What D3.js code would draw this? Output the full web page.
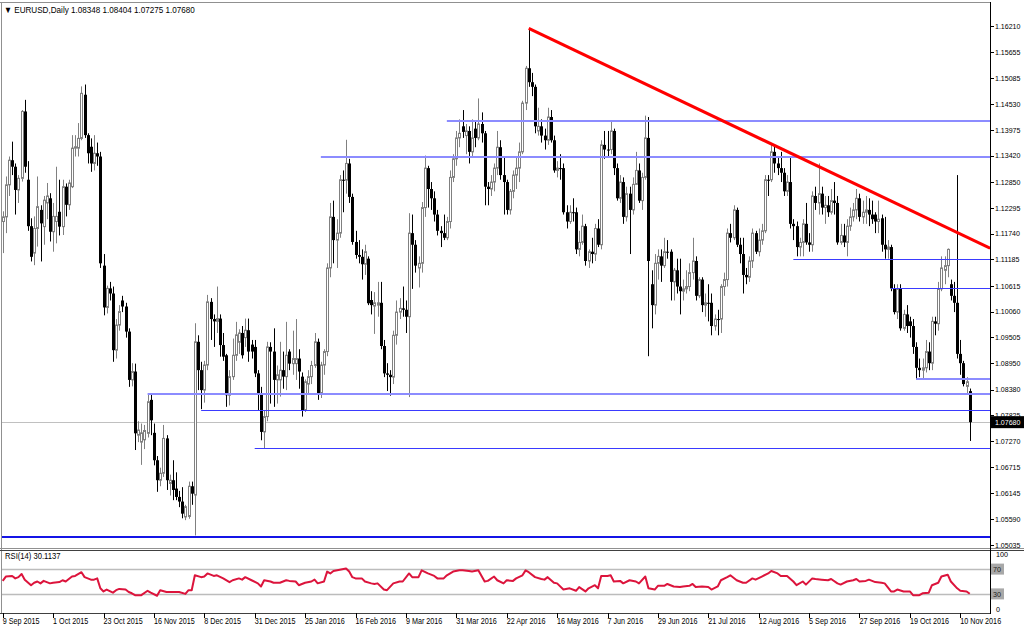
<!DOCTYPE html>
<html><head><meta charset="utf-8">
<script src="https://cdn.jsdelivr.net/npm/d3@7"></script>
<style>
html,body{margin:0;padding:0;background:#fff;overflow:hidden;}
svg{display:block;font-family:"Liberation Sans",Arial,sans-serif;}
</style></head><body>
<svg id="c" width="1024" height="630"></svg>
<script>
// ---------- DATA (EURUSD daily) ----------
const symbolTitle = "EURUSD,Daily";
const lastQuote = ["1.08348","1.08404","1.07275","1.07680"];
const opens = [
1.1200,1.1210,1.1279,1.1332,1.1318,1.1268,1.1293,1.1437,1.1290,1.1190,
1.1132,1.1185,1.1225,1.1189,1.1240,1.1250,1.1178,1.1200,1.1221,1.1189,
1.1275,1.1236,1.1275,1.1358,1.1358,1.1379,1.1473,1.1386,1.1361,1.1325,
1.1347,1.1340,1.1105,1.1015,1.1056,1.1045,1.0923,1.0977,1.1030,1.1017,
1.0963,1.0859,1.0877,1.0740,1.0725,1.0730,1.0744,1.0816,1.0745,1.0686,
1.0643,1.0658,1.0733,1.0636,1.0643,1.0625,1.0607,1.0597,1.0564,1.0565,
1.0630,1.0611,1.0941,1.0880,1.0837,1.0891,1.1027,1.0990,1.0985,1.0991,
1.0934,1.0912,1.0826,1.0866,1.0912,1.0940,1.0960,1.0950,1.0966,1.0935,
1.0930,1.0873,1.0830,1.0747,1.0780,1.0930,1.0920,1.0859,1.0859,1.0880,
1.0866,1.0920,1.0894,1.0894,1.0905,1.0866,1.0794,1.0850,1.0866,1.0890,
1.0941,1.0830,1.0891,1.0920,1.1100,1.1210,1.1160,1.1175,1.1290,1.1289,
1.1325,1.1253,1.1156,1.1128,1.1124,1.1108,1.1120,1.1031,1.1018,1.1020,
1.1025,1.0932,1.0873,1.0870,1.0865,1.0955,1.1005,1.1013,1.1010,1.0995,
1.1175,1.1150,1.1100,1.1110,1.1230,1.1315,1.1270,1.1250,1.1215,1.1180,
1.1175,1.1165,1.1200,1.1295,1.1335,1.1380,1.1405,1.1385,1.1395,1.1350,
1.1400,1.1380,1.1410,1.1390,1.1275,1.1270,1.1285,1.1315,1.1360,1.1300,
1.1285,1.1225,1.1265,1.1300,1.1315,1.1350,1.1455,1.1530,1.1500,1.1490,
1.1395,1.1405,1.1385,1.1375,1.1425,1.1375,1.1310,1.1315,1.1315,1.1220,
1.1200,1.1220,1.1220,1.1140,1.1155,1.1190,1.1115,1.1135,1.1130,1.1185,
1.1150,1.1365,1.1355,1.1355,1.1395,1.1315,1.1250,1.1285,1.1210,1.1260,
1.1225,1.1280,1.1310,1.1245,1.1295,1.1380,1.1065,1.1020,1.1110,1.1125,
1.1105,1.1135,1.1135,1.1070,1.1095,1.1060,1.1050,1.1055,1.1060,1.1090,
1.1115,1.1040,1.1075,1.1020,1.1025,1.1025,1.0975,1.0990,1.0990,1.1060,
1.1075,1.1175,1.1165,1.1225,1.1150,1.1130,1.1085,1.1080,1.1115,1.1175,
1.1135,1.1160,1.1180,1.1290,1.1290,1.1350,1.1325,1.1315,1.1305,1.1265,
1.1285,1.1195,1.1190,1.1145,1.1155,1.1195,1.1155,1.1150,1.1255,1.1240,
1.1260,1.1230,1.1235,1.1220,1.1245,1.1240,1.1155,1.1170,1.1155,1.1190,
1.1210,1.1225,1.1250,1.1210,1.1220,1.1225,1.1215,1.1215,1.1200,1.1207,
1.1150,1.1140,1.1145,1.1056,1.1005,1.1055,1.0970,1.1000,1.0985,1.0975,
1.0930,1.0885,1.0880,1.0885,1.0920,1.0895,1.0985,1.0980,1.1055,1.1095,
1.1105,1.1065,1.1040,1.1025,1.0915,1.0895,1.0845,1.08348];
const highs = [
1.1222,1.1297,1.1340,1.1372,1.1325,1.1300,1.1440,1.1462,1.1330,1.1207,
1.1211,1.1297,1.1235,1.1255,1.1283,1.1261,1.1240,1.1318,1.1290,1.1290,
1.1282,1.1290,1.1386,1.1386,1.1412,1.1491,1.1495,1.1390,1.1379,1.1386,
1.1370,1.1350,1.1130,1.1062,1.1070,1.1060,1.0990,1.1020,1.1040,1.1025,
1.0970,1.0895,1.0894,1.0770,1.0765,1.0762,1.0830,1.0830,1.0765,1.0695,
1.0670,1.0762,1.0740,1.0655,1.0686,1.0660,1.0620,1.0628,1.0590,1.0640,
1.0640,1.0981,1.0955,1.0898,1.0900,1.1042,1.1035,1.1000,1.1060,1.1000,
1.0960,1.0915,1.0880,1.0948,1.0984,1.0968,1.0975,1.0991,1.0991,1.0945,
1.0945,1.0880,1.0844,1.0794,1.0941,1.0940,1.0970,1.0890,1.0941,1.0920,
1.0984,1.0925,1.0965,1.0990,1.0925,1.0875,1.0860,1.0880,1.0900,1.0960,
1.0948,1.0898,1.0925,1.1110,1.1240,1.1245,1.1205,1.1300,1.1310,1.1376,
1.1335,1.1260,1.1180,1.1160,1.1140,1.1150,1.1125,1.1050,1.1048,1.1070,
1.1070,1.0945,1.0895,1.0880,1.0965,1.1030,1.1035,1.1060,1.1030,1.1218,
1.1215,1.1160,1.1125,1.1242,1.1342,1.1320,1.1285,1.1265,1.1225,1.1190,
1.1215,1.1210,1.1310,1.1345,1.1395,1.1420,1.1440,1.1410,1.1405,1.1420,
1.1415,1.1465,1.1435,1.1395,1.1285,1.1300,1.1325,1.1395,1.1375,1.1340,
1.1290,1.1270,1.1310,1.1340,1.1370,1.1460,1.1535,1.1616,1.1520,1.1495,
1.1445,1.1420,1.1400,1.1445,1.1440,1.1385,1.1330,1.1345,1.1325,1.1235,
1.1235,1.1250,1.1230,1.1180,1.1215,1.1195,1.1140,1.1165,1.1195,1.1205,
1.1375,1.1395,1.1395,1.1415,1.1400,1.1325,1.1300,1.1295,1.1275,1.1275,
1.1295,1.1350,1.1325,1.1305,1.1428,1.1425,1.1095,1.1130,1.1140,1.1140,
1.1165,1.1160,1.1140,1.1100,1.1120,1.1120,1.1075,1.1095,1.1110,1.1165,
1.1125,1.1080,1.1080,1.1045,1.1065,1.1045,1.1000,1.1010,1.1065,1.1090,
1.1185,1.1195,1.1235,1.1230,1.1165,1.1165,1.1100,1.1125,1.1185,1.1180,
1.1185,1.1195,1.1300,1.1300,1.1366,1.1365,1.1340,1.1350,1.1315,1.1300,
1.1340,1.1205,1.1200,1.1165,1.1205,1.1240,1.1175,1.1265,1.1275,1.1325,
1.1275,1.1255,1.1255,1.1270,1.1285,1.1255,1.1195,1.1195,1.1205,1.1230,
1.1240,1.1270,1.1260,1.1245,1.1255,1.1250,1.1245,1.1220,1.1245,1.1215,
1.1210,1.1160,1.1150,1.1065,1.1065,1.1065,1.1010,1.1020,1.0995,1.0990,
1.0940,1.0905,1.0905,1.0945,1.0940,1.0995,1.0995,1.1070,1.1125,1.1125,
1.1142,1.1075,1.1070,1.1300,1.0945,1.0900,1.0865,1.08404];
const lows = [
1.1132,1.1175,1.1255,1.1300,1.1215,1.1240,1.1286,1.1305,1.1180,1.1114,
1.1106,1.1146,1.1114,1.1150,1.1205,1.1157,1.1135,1.1153,1.1170,1.1171,
1.1211,1.1225,1.1272,1.1340,1.1340,1.1375,1.1380,1.1325,1.1307,1.1310,
1.1320,1.1100,1.0998,1.1002,1.1030,1.0898,1.0905,1.0965,1.1005,1.0950,
1.0844,1.0845,1.0708,1.0725,1.0676,1.0710,1.0735,1.0740,1.0675,1.0618,
1.0630,1.0650,1.0622,1.0610,1.0600,1.0600,1.0585,1.0561,1.0557,1.0560,
1.0590,1.0524,1.0837,1.0796,1.0810,1.0880,1.0945,1.0930,1.0960,1.0909,
1.0900,1.0801,1.0804,1.0859,1.0900,1.0915,1.0905,1.0930,1.0898,1.0905,
1.0865,1.0794,1.0729,1.0712,1.0770,1.0808,1.0801,1.0808,1.0823,1.0840,
1.0837,1.0880,1.0870,1.0859,1.0840,1.0780,1.0790,1.0830,1.0850,1.0885,
1.0816,1.0820,1.0870,1.0910,1.1080,1.1110,1.1100,1.1165,1.1220,1.1260,
1.1240,1.1150,1.1120,1.1110,1.1075,1.1085,1.1020,1.1000,1.0958,1.0995,
1.0925,1.0865,1.0835,1.0825,1.0850,1.0935,1.0990,1.0995,1.0960,1.0822,
1.1055,1.1090,1.1058,1.1090,1.1210,1.1230,1.1225,1.1200,1.1170,1.1145,
1.1160,1.1160,1.1185,1.1285,1.1320,1.1360,1.1380,1.1345,1.1325,1.1340,
1.1360,1.1375,1.1370,1.1235,1.1235,1.1255,1.1265,1.1300,1.1290,1.1215,
1.1215,1.1215,1.1250,1.1270,1.1285,1.1345,1.1440,1.1490,1.1470,1.1390,
1.1385,1.1370,1.1355,1.1365,1.1370,1.1305,1.1295,1.1290,1.1215,1.1185,
1.1195,1.1200,1.1130,1.1125,1.1150,1.1105,1.1100,1.1110,1.1115,1.1145,
1.1140,1.1335,1.1340,1.1345,1.1300,1.1245,1.1240,1.1195,1.1200,1.1130,
1.1215,1.1280,1.1240,1.1225,1.1290,1.0910,1.0970,1.1000,1.1075,1.1070,
1.1100,1.1120,1.1030,1.1030,1.1045,1.1000,1.1030,1.1045,1.1050,1.1075,
1.1030,1.1035,1.1005,1.0995,1.0985,1.0955,1.0965,1.0955,1.0960,1.1040,
1.1060,1.1155,1.1160,1.1145,1.1110,1.1045,1.1065,1.1070,1.1100,1.1130,
1.1125,1.1150,1.1175,1.1255,1.1285,1.1305,1.1300,1.1285,1.1255,1.1255,
1.1185,1.1160,1.1125,1.1125,1.1125,1.1150,1.1135,1.1135,1.1225,1.1215,
1.1215,1.1195,1.1210,1.1215,1.1215,1.1150,1.1150,1.1145,1.1125,1.1180,
1.1200,1.1205,1.1200,1.1195,1.1195,1.1190,1.1195,1.1175,1.1175,1.1135,
1.1120,1.1120,1.1050,1.1000,1.0990,1.0965,1.0965,1.0960,1.0950,1.0915,
1.0860,1.0865,1.0860,1.0875,1.0880,1.0880,1.0955,1.0965,1.1050,1.1065,
1.1080,1.1030,1.1005,1.0905,1.0870,1.0845,1.0830,1.07275];
const closes = [
1.1210,1.1279,1.1332,1.1318,1.1268,1.1293,1.1437,1.1318,1.1190,1.1124,
1.1185,1.1232,1.1196,1.1246,1.1255,1.1178,1.1211,1.1211,1.1189,1.1275,
1.1236,1.1283,1.1358,1.1361,1.1379,1.1476,1.1386,1.1347,1.1325,1.1347,
1.1340,1.1110,1.1015,1.1056,1.1045,1.0923,1.0977,1.1006,1.1017,1.0963,
1.0859,1.0877,1.0744,1.0751,1.0745,1.0750,1.0812,1.0772,1.0686,1.0643,
1.0658,1.0733,1.0643,1.0643,1.0622,1.0607,1.0597,1.0571,1.0586,1.0630,
1.0614,1.0941,1.0880,1.0837,1.0891,1.1027,1.0990,1.0985,1.0991,1.0934,
1.0909,1.0826,1.0866,1.0912,1.0956,1.0960,1.0912,1.0966,1.0920,1.0920,
1.0873,1.0830,1.0747,1.0780,1.0930,1.0920,1.0859,1.0870,1.0880,1.0866,
1.0912,1.0894,1.0905,1.0905,1.0877,1.0794,1.0855,1.0866,1.0890,1.0941,
1.0830,1.0891,1.0920,1.1100,1.1210,1.1160,1.1175,1.1290,1.1289,1.1325,
1.1253,1.1156,1.1128,1.1124,1.1108,1.1135,1.1024,1.1020,1.1025,1.1025,
1.0932,1.0873,1.0870,1.0865,1.0955,1.1005,1.1013,1.1010,1.0995,1.1175,
1.1150,1.1105,1.1110,1.1230,1.1315,1.1270,1.1250,1.1215,1.1180,1.1175,
1.1165,1.1200,1.1295,1.1335,1.1380,1.1390,1.1393,1.1395,1.1350,1.1380,
1.1380,1.1410,1.1390,1.1275,1.1270,1.1285,1.1315,1.1360,1.1300,1.1285,
1.1225,1.1265,1.1300,1.1315,1.1350,1.1455,1.1530,1.1500,1.1490,1.1405,
1.1405,1.1385,1.1375,1.1425,1.1375,1.1310,1.1315,1.1315,1.1220,1.1200,
1.1220,1.1220,1.1140,1.1155,1.1190,1.1115,1.1135,1.1130,1.1185,1.1150,
1.1365,1.1355,1.1355,1.1395,1.1315,1.1250,1.1285,1.1210,1.1260,1.1225,
1.1280,1.1310,1.1245,1.1295,1.1380,1.1115,1.1020,1.1110,1.1125,1.1105,
1.1135,1.1135,1.1070,1.1095,1.1060,1.1050,1.1055,1.1060,1.1090,1.1115,
1.1040,1.1075,1.1020,1.1025,1.1025,1.0975,1.0990,1.0990,1.1060,1.1075,
1.1175,1.1165,1.1225,1.1150,1.1130,1.1085,1.1080,1.1115,1.1175,1.1135,
1.1160,1.1180,1.1290,1.1290,1.1350,1.1325,1.1315,1.1305,1.1265,1.1285,
1.1195,1.1190,1.1145,1.1155,1.1195,1.1155,1.1150,1.1255,1.1240,1.1260,
1.1230,1.1235,1.1220,1.1245,1.1240,1.1155,1.1170,1.1155,1.1190,1.1210,
1.1225,1.1250,1.1210,1.1220,1.1225,1.1215,1.1205,1.1200,1.1205,1.1150,
1.1140,1.1145,1.1056,1.1005,1.1055,1.0970,1.1000,1.0975,1.0975,1.0930,
1.0885,1.0880,1.0885,1.0920,1.0895,1.0985,1.0980,1.1055,1.1100,1.1105,
1.1140,1.1040,1.1025,1.0915,1.0895,1.0850,1.0855,1.07680];

// RSI(14) readings: [bar index, value]
const rsiPoints = [
[0,51],[1,58],[3,59],[4,55],[5,57],[6,62],[7,53],[9,44],[10,48],[11,50],[12,47],[13,51],[15,47],[16,48],[18,49],[19,52],[20,50],[22,58],[23,59],[25,65],[26,57],[28,53],[29,53],[30,55],
[31,39],[32,34],[33,37],[35,32],[36,36],[37,38],[39,37],[40,33],[41,31],[42,28],[44,28],[46,35],[47,32],[49,27],[50,36],[52,33],[54,33],[56,33],[58,30],[59,36],[60,36],
[61,60],[63,57],[64,58],[65,63],[67,59],[68,60],[70,55],[72,49],[73,52],[75,55],[76,53],[77,57],[79,52],[81,47],[82,42],[83,52],[85,50],[86,48],[88,48],[90,52],[91,51],[93,50],[94,44],[96,48],[98,50],[99,53],[100,47],[102,50],
[103,66],[104,63],[105,67],[107,69],[109,71],[110,66],[111,57],[112,55],[114,55],[115,50],[117,47],[118,46],[119,47],[121,37],[122,36],[124,47],[126,50],[127,50],
[129,63],[130,57],[132,57],[133,68],[135,63],[137,59],[138,55],[140,55],[141,60],[143,66],[145,68],[146,68],[148,67],[149,66],[151,68],[153,50],[154,51],[156,58],[157,52],[159,47],[160,52],
[162,51],[163,55],[165,60],[166,68],[167,65],[169,57],[171,54],[172,53],[173,57],[175,48],[176,47],[178,37],[180,39],[182,35],[183,41],[185,34],[186,39],[188,44],[189,39],
[190,59],[192,59],[193,60],[194,50],[196,51],[197,47],[199,52],[201,50],[202,47],[204,58],[205,39],[207,37],[208,43],[210,43],[211,46],[213,42],[215,41],[216,42],[218,43],[219,46],[220,41],[222,42],[224,41],[225,37],[227,42],
[228,52],[230,57],[231,60],[233,52],[235,48],[236,48],[238,55],[239,53],[241,58],[243,63],[244,67],[246,63],[247,59],[249,59],[251,50],[252,44],[254,50],[255,45],[257,55],[258,54],[260,53],[262,52],[263,54],[265,47],[266,45],
[268,50],[270,52],[271,54],[272,50],[274,51],[275,53],[277,49],[279,48],[280,47],[282,34],[283,34],[284,37],[286,34],[288,34],[289,28],[291,28],[292,31],[294,32],[295,44],[297,48],[298,58],[300,61],[301,50],[303,39],[304,35],[306,34],[307,30.1137]];
const rsiLabel = "RSI(14) 30.1137";
const rsiLevels = [70, 30];
const rsiAxisLabels = [100, 70, 30, 0];

const priceTicks = [1.16210,1.15655,1.15085,1.14530,1.13975,1.13420,1.12850,1.12295,1.11740,1.11185,1.10615,
  1.10060,1.09505,1.08950,1.08380,1.07825,1.07270,1.06715,1.06145,1.05590,1.05035];
const dateTickBars = [0,16,32,48,64,80,96,112,128,144,160,176,192,208,224,240,256,272,288,304];
const dateTickLabels = ["9 Sep 2015","1 Oct 2015","23 Oct 2015","16 Nov 2015","8 Dec 2015","31 Dec 2015","25 Jan 2016",
  "16 Feb 2016","9 Mar 2016","31 Mar 2016","22 Apr 2016","16 May 2016","7 Jun 2016","29 Jun 2016","21 Jul 2016",
  "12 Aug 2016","5 Sep 2016","27 Sep 2016","19 Oct 2016","10 Nov 2016"];

// drawn objects
const levelPrices = [1.1416, 1.1339, 1.1120, 1.1056, 1.0860, 1.0828, 1.0794, 1.0712, 1.0521];
const levelStartBars = [141, 101, 251, 282, 290, 46, 63, 80, -2];
const trendAnchorBars = [167, 244];
const trendAnchorPrices = [1.1616, 1.1367];
const currentPrice = 1.07680;

// ---------- LAYOUT ----------
const W = 1024, H = 630;
const plotRight = 990, mainTop = 3, mainBottom = 548, rsiTop = 550, rsiBottom = 613;
const FS = 9, AXFS = 8;
const svg = d3.select("#c");

// narrow the glyphs like the terminal's font
function squeeze(sel, f) {
  sel.each(function () {
    const w = this.getComputedTextLength();
    if (w > 0) d3.select(this).attr("textLength", (w * f).toFixed(2)).attr("lengthAdjust", "spacingAndGlyphs");
  });
}

const x = d3.scaleLinear().domain([0, opens.length - 1]).range([2.7, 969.75]);
const y = d3.scaleLinear().domain([1.05035, 1.16210]).range([545, 26]);
const yr = d3.scaleLinear().domain([0, 100]).range([612.5, 550.5]);

const defs = svg.append("defs");
defs.append("clipPath").attr("id", "mainClip").append("rect")
  .attr("x", 1).attr("y", mainTop).attr("width", plotRight - 1).attr("height", mainBottom - mainTop);
defs.append("clipPath").attr("id", "rsiClip").append("rect")
  .attr("x", 1).attr("y", rsiTop).attr("width", plotRight - 1).attr("height", rsiBottom - rsiTop);

// ---------- MAIN PANEL ----------
const main = svg.append("g").attr("clip-path", "url(#mainClip)");

// current price line
main.append("line").attr("x1", 0).attr("x2", plotRight)
  .attr("y1", Math.round(y(currentPrice)) + 0.5).attr("y2", Math.round(y(currentPrice)) + 0.5)
  .attr("stroke", "#c0c0c0").attr("stroke-width", 1);

// candles
const bars = d3.range(opens.length).map(i => ({ i, o: opens[i], h: highs[i], l: lows[i], c: closes[i] }));
const cg = main.append("g");
const candle = cg.selectAll("g").data(bars).join("g");
candle.append("line")
  .attr("x1", d => Math.round(x(d.i)) + 0.5).attr("x2", d => Math.round(x(d.i)) + 0.5)
  .attr("y1", d => y(d.h)).attr("y2", d => y(d.l))
  .attr("stroke", d => d.c > d.o ? "#808080" : "#000").attr("stroke-width", 1);
candle.append("rect")
  .attr("x", d => d.c > d.o ? Math.round(x(d.i)) - 0.5 : Math.round(x(d.i)) - 1)
  .attr("width", d => d.c > d.o ? 2 : 3)
  .attr("y", d => y(Math.max(d.o, d.c)))
  .attr("height", d => Math.max(1, y(Math.min(d.o, d.c)) - y(Math.max(d.o, d.c))))
  .attr("fill", d => d.c > d.o ? "#fff" : "#000")
  .attr("stroke", d => d.c > d.o ? "#808080" : "none").attr("stroke-width", 1);

// horizontal levels (drawn over the candles)
const levelColors = ["#8c8cff", "#8c8cff", "#3a3aff", "#3a3aff", "#8c8cff", "#8c8cff", "#3a3aff", "#3a3aff", "#1414e6"];
const levelWidths = [2, 2, 1, 1, 2, 2, 1, 1, 2];
main.selectAll("line.lvl").data(levelPrices).join("line").attr("class", "lvl")
  .attr("x1", (d, i) => levelStartBars[i] < 0 ? 0 : x(levelStartBars[i]))
  .attr("x2", plotRight)
  .attr("y1", (d, i) => Math.round(y(d)) + (levelWidths[i] === 1 ? 0.5 : 0))
  .attr("y2", (d, i) => Math.round(y(d)) + (levelWidths[i] === 1 ? 0.5 : 0))
  .attr("stroke", (d, i) => levelColors[i]).attr("stroke-width", (d, i) => levelWidths[i]);

// trend line (through two highs, extended to the right edge)
const slope = (trendAnchorPrices[1] - trendAnchorPrices[0]) / (trendAnchorBars[1] - trendAnchorBars[0]);
const endBar = x.invert(plotRight);
main.append("line")
  .attr("x1", x(trendAnchorBars[0])).attr("y1", y(trendAnchorPrices[0]))
  .attr("x2", plotRight).attr("y2", y(trendAnchorPrices[0] + slope * (endBar - trendAnchorBars[0])))
  .attr("stroke", "#ff0000").attr("stroke-width", 3).attr("stroke-linecap", "butt");

// header
const hdr = svg.append("text").attr("x", 4).attr("y", 13).attr("font-size", FS).attr("fill", "#000")
  .text("\u25BC " + symbolTitle + "  " + lastQuote.join(" "));
squeeze(hdr, 0.9);

// ---------- RSI PANEL ----------
const rsi = svg.append("g").attr("clip-path", "url(#rsiClip)");
rsi.selectAll("line.lv").data(rsiLevels).join("line").attr("class", "lv")
  .attr("x1", 0).attr("x2", plotRight)
  .attr("y1", d => Math.round(yr(d)) + 0.5).attr("y2", d => Math.round(yr(d)) + 0.5)
  .attr("stroke", "#bcbcbc").attr("stroke-width", 1.6);
rsi.append("path").datum(rsiPoints)
  .attr("d", d3.line().x(d => x(d[0])).y(d => yr(d[1])))
  .attr("fill", "none").attr("stroke", "#dc143c").attr("stroke-width", 2).attr("stroke-linejoin", "round");
squeeze(svg.append("text").attr("x", 5).attr("y", 559).attr("font-size", FS).attr("fill", "#000").text(rsiLabel), 0.85);

// ---------- FRAMES ----------
svg.append("line").attr("x1", 0).attr("x2", plotRight).attr("y1", 2.5).attr("y2", 2.5).attr("stroke", "#909090");
svg.append("line").attr("x1", 1.5).attr("x2", 1.5).attr("y1", 2).attr("y2", rsiBottom).attr("stroke", "#909090");
svg.append("line").attr("x1", 0).attr("x2", W).attr("y1", mainBottom + 0.5).attr("y2", mainBottom + 0.5).attr("stroke", "#909090");
svg.append("line").attr("x1", 0).attr("x2", W).attr("y1", rsiTop + 0.5).attr("y2", rsiTop + 0.5).attr("stroke", "#404040");
svg.append("line").attr("x1", 0).attr("x2", plotRight).attr("y1", rsiBottom + 0.5).attr("y2", rsiBottom + 0.5).attr("stroke", "#404040");
svg.append("line").attr("x1", plotRight + 0.5).attr("x2", plotRight + 0.5).attr("y1", 2).attr("y2", rsiBottom + 1).attr("stroke", "#000");

// ---------- PRICE AXIS ----------
const pa = svg.append("g");
pa.selectAll("line").data(priceTicks).join("line")
  .attr("x1", plotRight).attr("x2", plotRight + 4)
  .attr("y1", d => Math.round(y(d)) + 0.5).attr("y2", d => Math.round(y(d)) + 0.5).attr("stroke", "#000");
const pLabels = pa.selectAll("text").data(priceTicks).join("text")
  .attr("x", plotRight + 5).attr("y", d => y(d)).attr("dy", "0.35em")
  .attr("font-size", AXFS).attr("fill", "#000").text(d => d3.format(".5f")(d));
squeeze(pLabels, 0.88);

// current price tag
svg.append("rect").attr("x", plotRight + 1).attr("y", y(currentPrice) - 6).attr("width", W - plotRight - 1).attr("height", 12).attr("fill", "#000");
squeeze(svg.append("text").attr("x", plotRight + 5).attr("y", y(currentPrice)).attr("dy", "0.38em")
  .attr("font-size", AXFS).attr("fill", "#fff").text(d3.format(".5f")(currentPrice)), 0.88);

// ---------- RSI AXIS ----------
const ra = svg.append("g");
rsiAxisLabels.forEach(v => {
  const boxed = v === 70 || v === 30;
  const yy = v === 100 ? 554 : v === 0 ? 609 : yr(v);
  if (boxed) {
    ra.append("rect").attr("x", plotRight + 1).attr("y", yr(v) - 5.5).attr("width", 13).attr("height", 11).attr("fill", "#a8a8a8");
  }
  squeeze(ra.append("text").attr("x", plotRight + (boxed ? 3 : 6)).attr("y", yy).attr("dy", "0.35em")
    .attr("font-size", AXFS).attr("fill", boxed ? "#202020" : "#000").text(v), 0.9);
});

// ---------- DATE AXIS ----------
const da = svg.append("g");
da.selectAll("line").data(dateTickBars).join("line")
  .attr("x1", d => Math.round(x(d)) + 0.5).attr("x2", d => Math.round(x(d)) + 0.5)
  .attr("y1", rsiBottom).attr("y2", rsiBottom + 5).attr("stroke", "#000");
const dLabels = da.selectAll("text").data(dateTickBars).join("text")
  .attr("x", d => x(d)).attr("y", 624).attr("font-size", FS).attr("fill", "#000")
  .text((d, i) => dateTickLabels[i]);
squeeze(dLabels, 0.8);
</script>
</body></html>
